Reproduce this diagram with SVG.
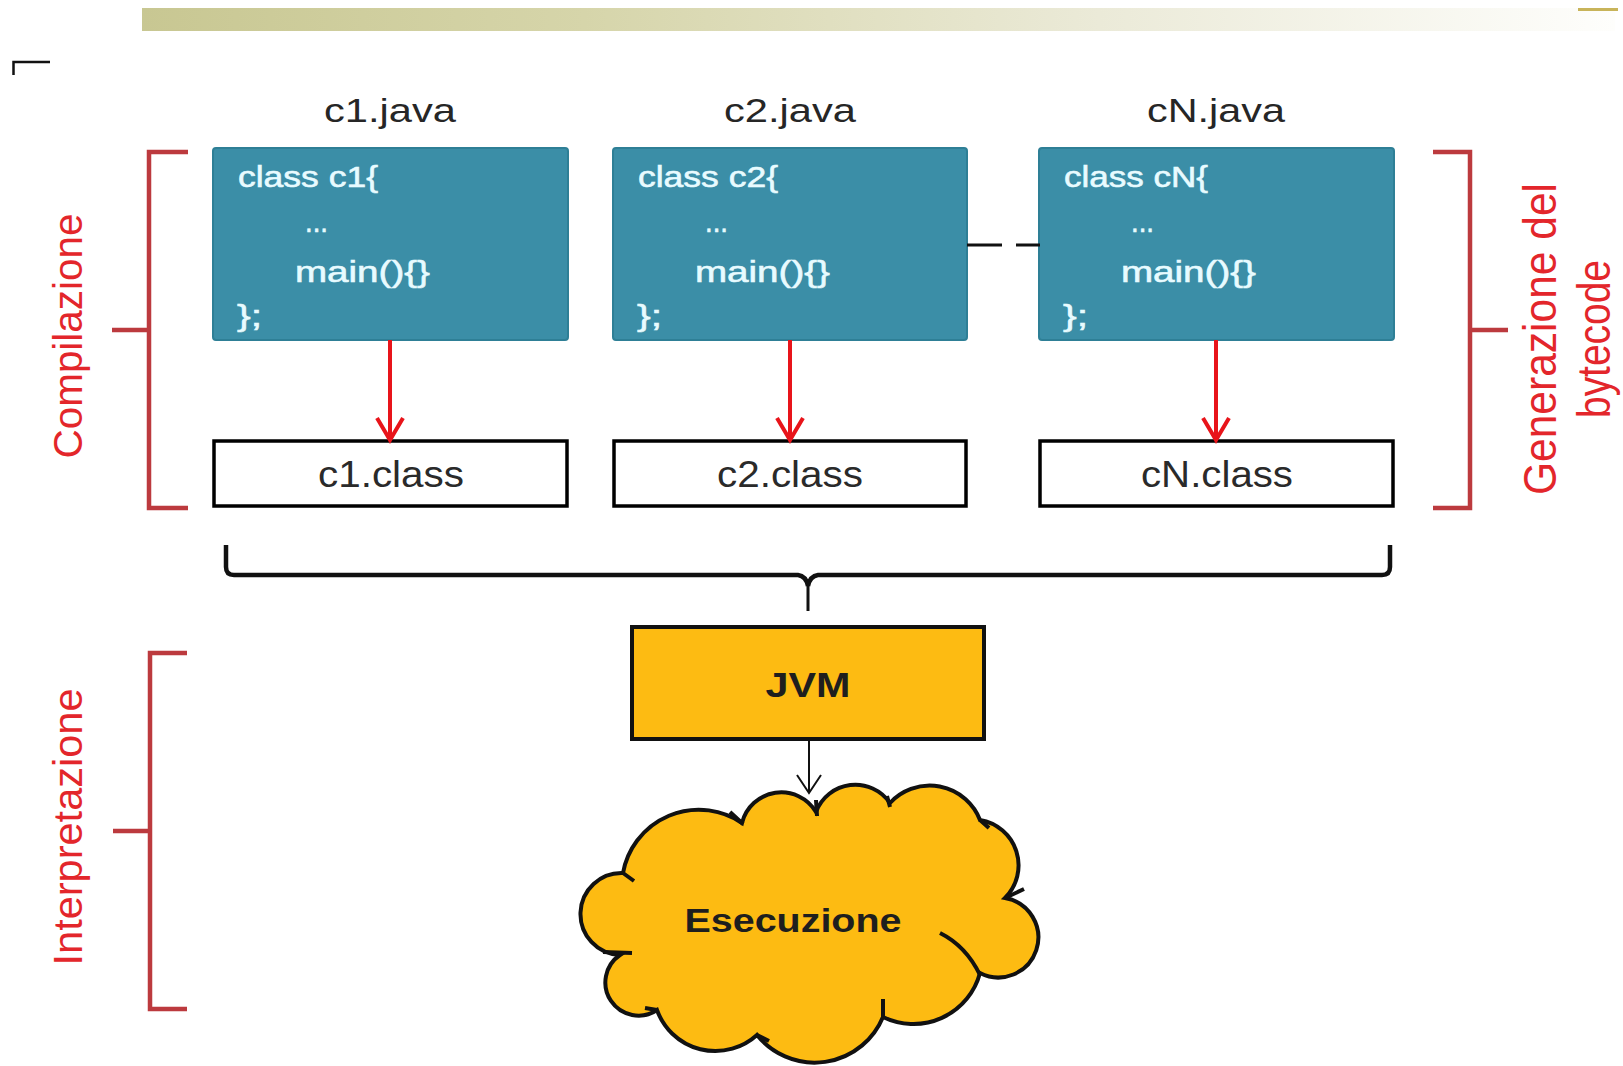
<svg xmlns="http://www.w3.org/2000/svg" width="1623" height="1066" viewBox="0 0 1623 1066">
<defs>
<linearGradient id="topbar" x1="0" y1="0" x2="1" y2="0">
<stop offset="0" stop-color="#c8c792"/>
<stop offset="0.3" stop-color="#d6d5aa"/>
<stop offset="0.65" stop-color="#ebead8"/>
<stop offset="1" stop-color="#fefefc"/>
</linearGradient>
<style>
.src{fill:#3b8ea7;stroke:#2e7f96;stroke-width:2}
.code{font-family:"Liberation Sans",Arial,sans-serif;font-size:30px;fill:#e8fbff;stroke:#e8fbff;stroke-width:0.6}
.cls{fill:#ffffff;stroke:#000;stroke-width:3.5}
.clsTxt{font-family:"Liberation Sans",Arial,sans-serif;font-size:37px;fill:#2a2a2a;text-anchor:middle}
.lbl{font-family:"Liberation Sans",Arial,sans-serif;font-size:34px;fill:#262626;text-anchor:middle}
.brk{fill:none;stroke:#bc3a3e;stroke-width:4.5}
.rtxt{font-family:"Liberation Sans",Arial,sans-serif;fill:#e3262b;text-anchor:middle}
.red{fill:none;stroke:#e8141a;stroke-width:4}
.gold{fill:#fdbb12;stroke:#111;stroke-width:4}
.bold{font-family:"Liberation Sans",Arial,sans-serif;font-weight:bold;fill:#1e1e1e;text-anchor:middle}
</style>
</defs>
<rect width="1623" height="1066" fill="#ffffff"/>
<rect x="142" y="8" width="1473" height="23" fill="url(#topbar)"/>
<rect x="1578" y="8" width="40" height="3" fill="#c8b45a"/>
<path d="M13.5,75 V62 H50" fill="none" stroke="#111" stroke-width="2.5"/>

<g id="bracket-compilazione">
<path class="brk" d="M188,152 H149 V508 H188 M112,330 H149"/>
<text class="rtxt" font-size="40" transform="translate(82,336) rotate(-90)" textLength="245" lengthAdjust="spacingAndGlyphs">Compilazione</text>
</g>
<g id="bracket-generazione">
<path class="brk" d="M1433,152 H1470 V508 H1433 M1470,330 H1508"/>
<text class="rtxt" font-size="46" transform="translate(1556,339) rotate(-90)" textLength="312" lengthAdjust="spacingAndGlyphs">Generazione del</text>
<text class="rtxt" font-size="46" transform="translate(1610,339) rotate(-90)" textLength="158" lengthAdjust="spacingAndGlyphs">bytecode</text>
</g>
<g id="bracket-interpretazione">
<path class="brk" d="M187,653 H150 V1009 H187 M113,831 H150"/>
<text class="rtxt" font-size="40" transform="translate(82,827) rotate(-90)" textLength="277" lengthAdjust="spacingAndGlyphs">Interpretazione</text>
</g>

<g id="c1-java">
<text class="lbl" x="390" y="122" textLength="132" lengthAdjust="spacingAndGlyphs">c1.java</text>
<rect class="src" x="213" y="148" width="355" height="192" rx="3"/>
<text class="code" x="238" y="187" textLength="140" lengthAdjust="spacingAndGlyphs">class c1{</text>
<text class="code" x="305" y="232" textLength="23" lengthAdjust="spacingAndGlyphs">...</text>
<text class="code" x="295" y="282" textLength="135" lengthAdjust="spacingAndGlyphs">main(){}</text>
<text class="code" x="237" y="326" textLength="25" lengthAdjust="spacingAndGlyphs">};</text>
</g>
<g id="c2-java">
<text class="lbl" x="790" y="122" textLength="132" lengthAdjust="spacingAndGlyphs">c2.java</text>
<rect class="src" x="613" y="148" width="354" height="192" rx="3"/>
<text class="code" x="638" y="187" textLength="140" lengthAdjust="spacingAndGlyphs">class c2{</text>
<text class="code" x="705" y="232" textLength="23" lengthAdjust="spacingAndGlyphs">...</text>
<text class="code" x="695" y="282" textLength="135" lengthAdjust="spacingAndGlyphs">main(){}</text>
<text class="code" x="637" y="326" textLength="25" lengthAdjust="spacingAndGlyphs">};</text>
</g>
<g id="cN-java">
<text class="lbl" x="1216" y="122" textLength="138" lengthAdjust="spacingAndGlyphs">cN.java</text>
<rect class="src" x="1039" y="148" width="355" height="192" rx="3"/>
<text class="code" x="1064" y="187" textLength="144" lengthAdjust="spacingAndGlyphs">class cN{</text>
<text class="code" x="1131" y="232" textLength="23" lengthAdjust="spacingAndGlyphs">...</text>
<text class="code" x="1121" y="282" textLength="135" lengthAdjust="spacingAndGlyphs">main(){}</text>
<text class="code" x="1063" y="326" textLength="25" lengthAdjust="spacingAndGlyphs">};</text>
</g>

<g id="c1-class">
<rect class="cls" x="214" y="441" width="353" height="65"/>
<text class="clsTxt" x="391" y="487" textLength="146" lengthAdjust="spacingAndGlyphs">c1.class</text>
</g>
<g id="c2-class">
<rect class="cls" x="614" y="441" width="352" height="65"/>
<text class="clsTxt" x="790" y="487" textLength="146" lengthAdjust="spacingAndGlyphs">c2.class</text>
</g>
<g id="cN-class">
<rect class="cls" x="1040" y="441" width="353" height="65"/>
<text class="clsTxt" x="1217" y="487" textLength="152" lengthAdjust="spacingAndGlyphs">cN.class</text>
</g>

<g id="jvm">
<rect class="gold" x="632" y="627" width="352" height="112"/>
<text class="bold" x="808" y="697" font-size="35" textLength="85" lengthAdjust="spacingAndGlyphs">JVM</text>
</g>

<g id="esecuzione">
<path class="gold" d="M742,823 A40.5,40.5 0 0 1 816,812 A42,42 0 0 1 890,803 A54,54 0 0 1 980,820 A46,46 0 0 1 1005,898 A40,40 0 1 1 980,973 A69,69 0 0 1 883,1017 A74,74 0 0 1 757,1035 A62,62 0 0 1 657,1010 A33,33 0 0 1 620,955 A41,41 0 0 1 623,873 A77,77 0 0 1 742,823 Z"/>
<path fill="none" stroke="#111" stroke-width="4" d="M730,812 L743,824 M816,800 L817,816 M887,796 L890,807 M980,820 L989,828 M1005,898 L1024,889 M940,933 Q966,946 980,975 M883,999 L883,1017 M757,1035 L769,1041 M657,1010 L645,1008 M632,953 L603,952 M623,873 L634,881"/>
<text class="bold" x="793" y="932" font-size="34" textLength="217" lengthAdjust="spacingAndGlyphs">Esecuzione</text>
</g>

<g id="connectors">
<path class="red" d="M390,340 V438 M377,418 L390,440 L403,418"/>
<path class="red" d="M790,340 V438 M777,418 L790,440 L803,418"/>
<path class="red" d="M1216,340 V438 M1203,418 L1216,440 L1229,418"/>
<path fill="none" stroke="#111" stroke-width="3" d="M967,245 H1002 M1016,245 H1040"/>
<path fill="none" stroke="#111" stroke-width="4.5" d="M226,545 V567 Q226,575 234,575 H798 Q806,576 808,586 M1390,545 V567 Q1390,575 1382,575 H818 Q810,576 808,586"/>
<path fill="none" stroke="#111" stroke-width="3" d="M808,584 V611"/>
<path fill="none" stroke="#111" stroke-width="2" d="M809,740 V792 M797,775 L809,793 L821,775"/>
</g>
</svg>
